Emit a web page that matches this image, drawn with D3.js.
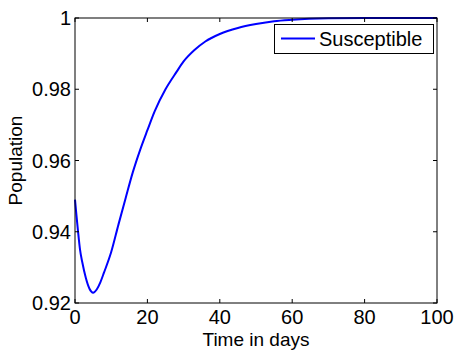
<!DOCTYPE html>
<html><head><meta charset="utf-8">
<script src="https://cdn.jsdelivr.net/npm/d3@7"></script>
<style>html,body{margin:0;padding:0;background:#fff;}svg{display:block;}</style>
</head><body>
<script>
const days = [0,1,1.4,2,3,4,5,6,7,8,10,12,14,16,18,20,22,25,28,30,33,36,40,45,50,55,60,70,80,90,100];
const susceptible = [0.9490,0.9385,0.9349,0.9315,0.9270,0.9240,0.9229,0.9238,0.9258,0.9285,0.9343,0.9420,0.9495,0.9568,0.9630,0.9685,0.9738,0.9800,0.9848,0.9878,0.9910,0.9934,0.9955,0.9972,0.9983,0.9991,0.9995,0.9999,1.0,1.0,1.0];
const xTicks = [0,20,40,60,80,100];
const yTicks = [0.92,0.94,0.96,0.98,1];
const seriesName = "Susceptible";
const xLabel = "Time in days";
const yLabel = "Population";

const W = 455, H = 351;
const m = {left:75, right:18, top:18, bottom:48};
const font = "Liberation Sans, Arial, Helvetica, sans-serif";
const fs = 20;

const svg = d3.select("body").append("svg").attr("width", W).attr("height", H);
const x = d3.scaleLinear().domain([0,100]).range([m.left, W - m.right]);
const y = d3.scaleLinear().domain([0.92,1]).range([H - m.bottom, m.top]);

const tl = 4;

// curve
const line = d3.line().x((d,i)=>x(days[i])).y(d=>y(d)).curve(d3.curveMonotoneX);
svg.append("path").datum(susceptible).attr("d", line)
  .attr("fill","none").attr("stroke","#0000ff").attr("stroke-width",2);

// frame
svg.append("rect").attr("x", x(0)).attr("y", y(1)).attr("width", x(100)-x(0)).attr("height", y(0.92)-y(1))
  .attr("fill","none").attr("stroke","#000").attr("stroke-width",1);

const g = svg.append("g").attr("font-family", font).attr("font-size", fs).attr("fill", "#000");

// ticks inward
xTicks.forEach(t=>{
  svg.append("line").attr("x1",x(t)).attr("x2",x(t)).attr("y1",y(0.92)).attr("y2",y(0.92)-tl).attr("stroke","#000");
  svg.append("line").attr("x1",x(t)).attr("x2",x(t)).attr("y1",y(1)).attr("y2",y(1)+tl).attr("stroke","#000");
  g.append("text").attr("x",x(t)).attr("y",y(0.92)+20.5).attr("text-anchor","middle").text(d3.format("d")(t));
});
yTicks.forEach(t=>{
  svg.append("line").attr("x1",x(0)).attr("x2",x(0)+tl).attr("y1",y(t)).attr("y2",y(t)).attr("stroke","#000");
  svg.append("line").attr("x1",x(100)).attr("x2",x(100)-tl).attr("y1",y(t)).attr("y2",y(t)).attr("stroke","#000");
  g.append("text").attr("x",x(0)-4).attr("y",y(t)).attr("dy","0.36em").attr("text-anchor","end").text(t===1?"1":d3.format(".2f")(t));
});

// axis labels
g.append("text").attr("x",(x(0)+x(100))/2).attr("y",346).attr("font-size",19).attr("text-anchor","middle").text(xLabel);
g.append("text").attr("transform",`translate(22,${(y(0.92)+y(1))/2}) rotate(-90)`).attr("font-size",19).attr("text-anchor","middle").text(yLabel);

// legend
const lg = svg.append("g");
lg.append("rect").attr("x",274.5).attr("y",24.5).attr("width",159).attr("height",29).attr("fill","#fff").attr("stroke","#000");
lg.append("line").attr("x1",281).attr("x2",315).attr("y1",38.5).attr("y2",38.5).attr("stroke","#0000ff").attr("stroke-width",2);
lg.append("text").attr("x",319).attr("y",45.5).attr("font-family", font).attr("font-size", fs).attr("fill","#000").text(seriesName);
</script>
</body></html>
